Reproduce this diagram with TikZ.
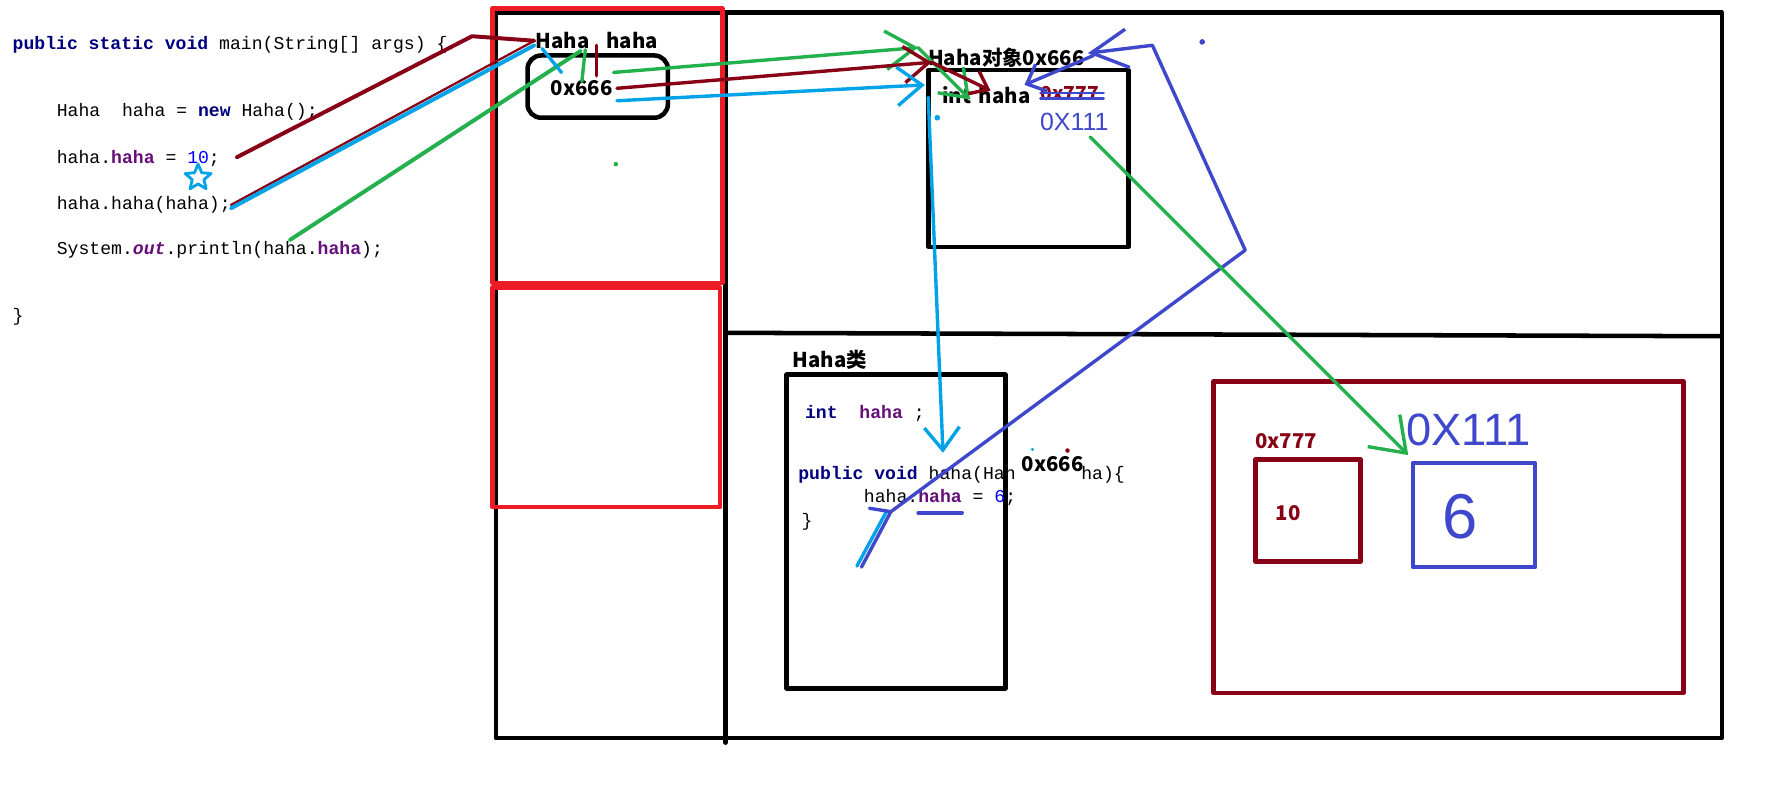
\documentclass[tikz,border=0pt]{standalone}
\usepackage{fontspec}
\setmonofont{Liberation Mono}
\newfontfamily\yh{Noto Sans CJK SC}
\newfontfamily\hw{Liberation Sans}
\usetikzlibrary{arrows.meta,shapes.geometric}
\definecolor{PaintRed}{RGB}{237,28,36}
\definecolor{DarkRed}{RGB}{136,0,21}
\definecolor{PaintGreen}{RGB}{34,177,76}
\definecolor{Turq}{RGB}{0,162,232}
\definecolor{Indigo}{RGB}{63,72,204}
\definecolor{KwNavy}{RGB}{0,0,128}
\definecolor{FieldPurple}{RGB}{102,14,122}
\definecolor{NumBlue}{RGB}{0,0,255}

\begin{document}
\begin{tikzpicture}[x=1pt,y=-1pt,line cap=round,line join=round,
  >={Straight Barb[length=22pt,width=32pt]},
  codeline/.style={anchor=base west,inner sep=0pt,font=\ttfamily\fontsize{16}{18}\selectfont},
  lbl/.style={inner sep=0pt,font=\yh\bfseries\fontsize{18}{20}\selectfont},
  hand/.style={inner sep=0pt,text=Indigo},
  boxline/.style={line width=4pt},
  pen/.style={line width=3pt}]
\useasboundingbox (0,0) rectangle (1568,702);
\fill[white] (0,0) rectangle (1568,702);

\draw[boxline] (438,11) rectangle (1521,652);
\draw[boxline] (641,11) -- (641,656);
\draw[boxline] (641,294) -- (1521,297);
\draw[boxline,PaintRed] (435,7.5) rectangle (638,250);
\draw[boxline,PaintRed] (435,254) rectangle (636,448);

\node[codeline] (m0) at (11,44) {{\color{KwNavy}\bfseries public static void} main(String[] args) \{};
\node[codeline] (m1) at (50,103) {Haha~~haha = {\color{KwNavy}\bfseries new} Haha();};
\node[codeline] (m2) at (50,144) {haha.{\color{FieldPurple}\bfseries haha} = {\color{NumBlue}10};};
\node[codeline] (m3) at (50,185) {haha.haha(haha);};
\node[codeline] (m4) at (50,225) {System.{\color{FieldPurple}\bfseries\itshape out}.println(haha.{\color{FieldPurple}\bfseries haha});};
\node[codeline] (m5) at (11,284) {\}};
\node[star,star points=5,star point ratio=2.2,draw=Turq,line width=2.5pt,minimum size=24pt,inner sep=0pt] (star) at (175,157) {};

\node[lbl,anchor=west] (vname) at (473,36) {Haha\hspace{15pt}haha};
\node[draw,boxline,rounded corners=12pt,minimum width=124pt,minimum height=55pt] (var) at (528,76.5) {};
\node[lbl] (vval) at (514,78) {0x666};

\node[lbl] (objname) at (889,51) {Haha对象0x666};
\node[draw,boxline,minimum width=177pt,minimum height=156pt] (obj) at (908.5,140) {};
\node[lbl,anchor=west] (fld) at (832,84) {int\hspace{7pt}haha};
\node[lbl,anchor=west,text=DarkRed,font=\yh\bfseries\fontsize{17}{19}\selectfont] (old) at (919,83) {0x777};
\node[hand,font=\hw\fontsize{22}{24}\selectfont] (new) at (949,108) {0X111};

\node[lbl] (clsname) at (733,318) {Haha类};
\node[draw,boxline,minimum width=193pt,minimum height=277pt] (cls) at (791.5,469.5) {};
\node[codeline] (k0) at (711,370) {{\color{KwNavy}\bfseries int}~~{\color{FieldPurple}\bfseries haha}~;};
\node[codeline] (k1) at (705,424) {{\color{KwNavy}\bfseries public void} haha(Hah};
\node[codeline] (k1b) at (955,424) {ha)\{};
\node[codeline] (k2) at (763,444) {haha.{\color{FieldPurple}\bfseries haha} = {\color{NumBlue}6};};
\node[codeline] (k3) at (708,465) {\}};
\node[lbl] (arg) at (930,410) {0x666};

\node[draw=DarkRed,boxline,minimum width=415pt,minimum height=275pt] (heap2) at (1279.5,474.5) {};
\node[lbl,text=DarkRed] (addr) at (1136,390) {0x777};
\node[draw=DarkRed,boxline,minimum width=93pt,minimum height=90pt] (cell) at (1155.5,451) {};
\node[lbl,text=DarkRed] (ten) at (1138,453) {10};
\node[draw=Indigo,boxline,minimum width=108pt,minimum height=92pt] (cell2) at (1302,455) {};
\node[hand,font=\hw\fontsize{56}{60}\selectfont] (six) at (1290,456) {6};
\node[hand,font=\hw\fontsize{40}{44}\selectfont] (addr2) at (1297,380) {0X111};

\coordinate (set10) at (209,139);
\coordinate (bendA) at (417,32);
\coordinate (call) at (204,181);
\coordinate (callB) at (204,184);
\coordinate (headR) at (472,36);
\coordinate (headB) at (472,40);
\coordinate (print) at (256,212);
\coordinate (vtop) at (513,45);
\coordinate (tg1) at (517,44); \coordinate (tg2) at (514,72);
\coordinate (tr1) at (527,40); \coordinate (tr2) at (527,67);
\coordinate (tb1) at (479,43); \coordinate (tb2) at (496,64);
\coordinate (g0) at (542,64); \coordinate (gH) at (811,42); \coordinate (gF) at (857,88);
\coordinate (d0) at (545,78); \coordinate (dH) at (823,55); \coordinate (dF) at (875,80);
\coordinate (b0) at (545,89); \coordinate (bH) at (817,75);
\coordinate (bT) at (820,86); \coordinate (bM) at (833,400);
\coordinate (q1) at (757,500); \coordinate (q2) at (783,452);
\coordinate (iS) at (761,501); \coordinate (iK) at (787,452); \coordinate (iL) at (768,449);
\coordinate (iC) at (1100,221); \coordinate (iU) at (1018,40); \coordinate (iH) at (961,47);
\coordinate (iH2) at (966,49); \coordinate (iF) at (905,75);
\coordinate (s1) at (919,82); \coordinate (s2) at (975,82);
\coordinate (s3) at (919,87); \coordinate (s4) at (975,87);
\coordinate (u1) at (811,453); \coordinate (u2) at (850,453);
\coordinate (n0) at (963,121); \coordinate (n1) at (1244,402);

\draw[pen,line width=3.5pt,DarkRed] (set10) -- (bendA) -- (headR);
\draw[line width=2pt,DarkRed] (call) -- (headR);
\draw[pen,line width=3.5pt,Turq] (callB) -- (headB);
\draw[pen,line width=3.5pt,PaintGreen] (print) -- (vtop);
\draw[pen,Turq] (tb1) -- (tb2);
\draw[pen,PaintGreen] (tg1) -- (tg2);
\draw[pen,DarkRed] (tr1) -- (tr2);

\draw[pen,PaintGreen,-{Straight Barb[length=26pt,width=34pt]}] (g0) -- (gH);
\draw[pen,PaintGreen,->] (gH) -- (gF);
\draw[pen,DarkRed,->] (d0) -- (dH);
\draw[pen,DarkRed,-{Straight Barb[length=14pt,width=22pt]}] (dH) -- (dF);
\draw[pen,Turq,-{Straight Barb[length=22pt,width=34pt]}] (b0) -- (bH);
\draw[pen,Turq,-{Straight Barb[length=20pt,width=31pt]}] (bT) -- (bM);

\draw[pen,Turq] (q1) -- (q2);
\draw[pen,Indigo] (iL) -- (iK);
\draw[pen,Indigo,-{Straight Barb[length=32pt,width=34pt]}] (iS) -- (iK) -- (iC) -- (iU) -- (iH);
\draw[pen,Indigo,-{Straight Barb[length=14pt,width=26pt]}] (iH2) -- (iF);
\draw[line width=2pt,Indigo] (s1) -- (s2);
\draw[line width=2pt,Indigo] (s3) -- (s4);
\draw[pen,Indigo] (u1) -- (u2);
\draw[pen,PaintGreen,-{Straight Barb[length=28pt,width=40pt]}] (n0) -- (n1);

\fill[PaintGreen] (544,145) circle (2pt);
\fill[Indigo] (1062,37) circle (2.5pt);
\fill[Turq] (828,104) circle (2.5pt);
\fill[Turq] (912,397) circle (1.5pt);
\fill[DarkRed] (943,398) circle (2pt);
\end{tikzpicture}
\end{document}
